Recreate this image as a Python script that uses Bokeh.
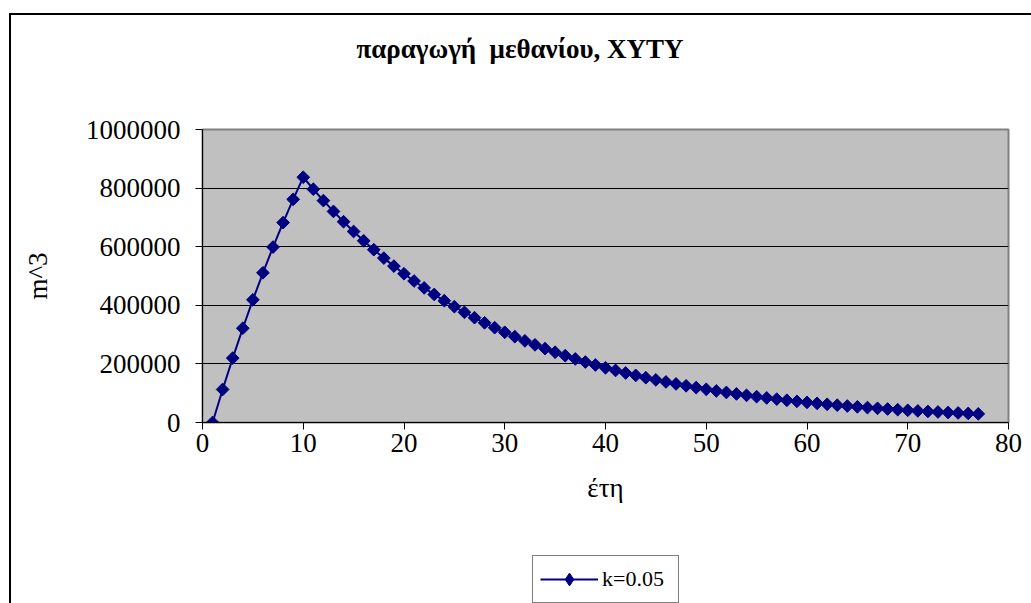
import math
from bokeh.plotting import figure
from bokeh.models import (FixedTicker, Legend, LegendItem, BasicTickFormatter, Range1d, Div)
from bokeh.layouts import column
from bokeh.embed import file_html
from bokeh.resources import INLINE

# years
years = list(range(1, 78))
# methane production (m^3), k=0.05
methane = [
    0, 112700, 219800, 321700, 418700, 511000, 598700, 682200, 761600, 837000,
    796200, 757300, 720400, 685300, 651900, 620100, 589800, 561100, 533700, 507700,
    482900, 459400, 437000, 415600, 395400, 376100, 357700, 340300, 323700, 307900,
    292900, 278600, 265000, 252100, 239800, 228100, 217000, 206400, 196300, 186800,
    177700, 169000, 160700, 152900, 145400, 138400, 131600, 125200, 119100, 113300,
    107700, 102500, 97500, 92700, 88200, 83900, 79800, 75900, 72200, 68700,
    65400, 62200, 59100, 56300, 53500, 50900, 48400, 46100, 43800, 41700,
    39600, 37700, 35900, 34100, 32500, 30900, 29400,
]
x_ticks = [0, 10, 20, 30, 40, 50, 60, 70, 80]
y_ticks = [0, 200000, 400000, 600000, 800000, 1000000]
series_name = "k=0.05"
title_text = "παραγωγή  μεθανίου, ΧΥΤΥ"
x_label = "έτη"
y_label = "m^3"

SERIF = "Liberation Serif"
NAVY = "#000080"

# ---- title ----
title = Div(text=title_text, width=1031, height=100, margin=0,
            styles={"font-family": SERIF, "font-weight": "bold", "font-size": "27px",
                    "white-space": "pre", "text-align": "center", "line-height": "98px",
                    "padding-left": "9px", "box-sizing": "border-box", "width": "1031px",
                    "color": "black"})

# ---- main chart ----
p = figure(width=1031, height=440, output_backend="svg", toolbar_location=None,
           x_range=Range1d(0, 80), y_range=Range1d(0, 1000000),
           min_border_left=202, min_border_right=23, min_border_top=29, min_border_bottom=118,
           background_fill_color="#C0C0C0", border_fill_color=None, margin=0)

p.outline_line_color = "#808080"
p.outline_line_width = 2

p.xgrid.visible = False
p.ygrid.ticker = FixedTicker(ticks=[200000, 400000, 600000, 800000])
p.ygrid.grid_line_color = "black"
p.ygrid.grid_line_width = 1

xax = p.xaxis[0]
yax = p.yaxis[0]
for ax in (xax, yax):
    ax.axis_line_color = "black"
    ax.major_tick_line_color = "black"
    ax.major_tick_out = 7
    ax.major_tick_in = 0
    ax.minor_tick_out = 0
    ax.minor_tick_in = 0
    ax.major_label_text_font = SERIF
    ax.major_label_text_font_size = "27px"
    ax.major_label_text_color = "black"
    ax.axis_label_text_font = SERIF
    ax.axis_label_text_font_size = "27px"
    ax.axis_label_text_font_style = "normal"
    ax.axis_label_text_color = "black"

xax.ticker = FixedTicker(ticks=x_ticks)
yax.ticker = FixedTicker(ticks=y_ticks)
yax.formatter = BasicTickFormatter(use_scientific=False)
xax.major_label_standoff = 4
yax.major_label_standoff = 15
xax.axis_label = x_label
yax.axis_label = y_label
xax.axis_label_standoff = 18
yax.axis_label_standoff = 30

p.line(years, methane, line_color=NAVY, line_width=2)
p.scatter(years, methane, marker="square", angle=math.pi / 4, size=9,
          fill_color=NAVY, line_color=NAVY)

# ---- legend strip (its frame is aligned with the chart's frame) ----
lp = figure(width=1031, height=63, output_backend="svg", toolbar_location=None,
            x_range=Range1d(-10, -9), y_range=Range1d(-10, -9),
            x_axis_type=None, y_axis_type=None,
            min_border_left=0, min_border_right=0, min_border_top=0, min_border_bottom=0,
            background_fill_color=None, border_fill_color=None, outline_line_color=None,
            margin=0)
lp.grid.visible = False
# legend-only renderers (data lies outside this strip's ranges)
lline = lp.line(years[:2], methane[:2], line_color=NAVY, line_width=2)
lpts = lp.scatter(years[:2], methane[:2], marker="diamond", size=15,
                  fill_color=NAVY, line_color=NAVY)
legend = Legend(items=[LegendItem(label=series_name, renderers=[lline, lpts])],
                location=(330, 0),
                border_line_color="black", border_line_width=1,
                background_fill_color="white", background_fill_alpha=1,
                label_text_font=SERIF, label_text_font_size="22px", label_text_color="black",
                glyph_width=58, glyph_height=32, label_width=69, padding=7, margin=0,
                label_standoff=4, spacing=0)
lp.add_layout(legend, "center")

page = column(title, p, lp, spacing=0, margin=0,
              styles={
                  "background-image": "linear-gradient(#000,#000), linear-gradient(#000,#000)",
                  "background-size": "2px 100%, 100% 2px",
                  "background-position": "9px 13px, 9px 13px",
                  "background-repeat": "no-repeat",
              })

open("out.html", "w").write(file_html(page, INLINE))
